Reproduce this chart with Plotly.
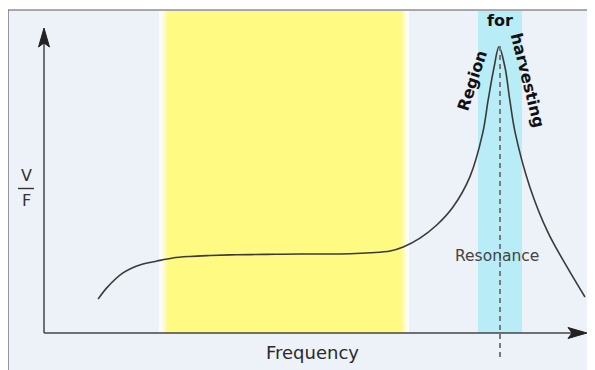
import plotly.graph_objects as go

# ---- data (arbitrary units: frequency vs V/F response) ----
freq = [1.00, 1.16, 1.46, 1.77, 2.09, 2.38, 2.70, 3.07, 3.44, 3.81, 4.27, 4.73, 5.20,
        5.66, 6.03, 6.40, 6.64, 6.95, 7.26, 7.56, 7.87, 8.11, 8.21, 8.32, 8.41, 8.52,
        8.61, 8.71, 8.98, 9.32, 9.67, 10.00]
vf = [1.11, 1.48, 1.97, 2.23, 2.36, 2.46, 2.51, 2.54, 2.56, 2.57, 2.58, 2.59, 2.59,
      2.60, 2.63, 2.69, 2.82, 3.11, 3.54, 4.13, 5.11, 6.56, 7.64, 8.72, 9.38, 8.72,
      7.64, 6.56, 4.79, 3.28, 2.16, 1.18]
x_label = "Frequency"
resonance_label = "Resonance"

PAGE_W, PAGE_H = 595, 370
OFF = 8  # default body margin of the html page
W, H = PAGE_W - OFF, PAGE_H - OFF
# axis origin at page pixel (44,333); 54.1 px per x-unit, 30.5 px per y-unit
X0, Y0, KX, KY = 44, 333, 54.1, 30.5


def px(x):
    return (x - OFF) / W


def py(y):
    return 1 - (y - OFF) / H


fig = go.Figure()
fig.add_trace(go.Scatter(x=freq, y=vf, mode="lines",
                         line=dict(color="#3a3a3a", width=1.6, shape="spline", smoothing=1.0),
                         hoverinfo="skip", showlegend=False))

shapes = []


def rect(x0, x1, y0, y1, color):
    shapes.append(dict(type="rect", xref="paper", yref="paper", x0=px(x0), x1=px(x1), y0=py(y1), y1=py(y0),
                       line=dict(width=0), fillcolor=color, layer="below"))


# frame
shapes.append(dict(type="rect", xref="paper", yref="paper", x0=px(8), x1=px(605), y0=py(380), y1=py(10),
                   line=dict(color="#5a5a5a", width=1.2), fillcolor="#edf1f8", layer="below"))
# yellow band with soft white edges (graded)
rect(159, 409, 11, 333, "rgba(255,255,255,0.75)")
rect(161, 407, 11, 333, "#fffde2")
rect(163, 405, 11, 333, "#fffcc4")
rect(165, 404, 11, 333, "#fffba6")
rect(167, 402, 11, 333, "#fffa82")
# cyan band
rect(478, 522, 11, 333, "#b8ecf6")
# dashed resonance line
shapes.append(dict(type="line", xref="paper", yref="paper", x0=px(500), x1=px(500), y0=py(357), y1=py(45),
                   line=dict(color="#7a7a7a", width=2, dash="5px,4px")))
# axes
shapes.append(dict(type="line", xref="paper", yref="paper", x0=px(44), x1=px(44), y0=py(333), y1=py(40),
                   line=dict(color="#444", width=1.5)))
shapes.append(dict(type="line", xref="paper", yref="paper", x0=px(44), x1=px(575), y0=py(333), y1=py(333),
                   line=dict(color="#444", width=1.5)))


def path(pts):
    return "M " + " L ".join(f"{px(a):.5f},{py(b):.5f}" for a, b in pts) + " Z"


shapes.append(dict(type="path", xref="paper", yref="paper",
                   path=path([(44, 28), (49.5, 47), (44, 43), (38.5, 47)]),
                   fillcolor="#222", line=dict(color="#222", width=1)))
shapes.append(dict(type="path", xref="paper", yref="paper",
                   path=path([(587, 333), (568, 338.5), (572, 333), (568, 327.5)]),
                   fillcolor="#222", line=dict(color="#222", width=1)))
# fraction bar
shapes.append(dict(type="line", xref="paper", yref="paper", x0=px(18), x1=px(34), y0=py(188.5), y1=py(188.5),
                   line=dict(color="#333", width=1.4)))

F = "DejaVu Sans"
ann = []


def txt(t, x, y, size, color, bold=False, angle=0):
    ann.append(dict(text=f"<b>{t}</b>" if bold else t, x=px(x), y=py(y), xref="paper", yref="paper",
                    showarrow=False, xanchor="center", yanchor="middle", textangle=angle,
                    font=dict(family=F, size=size, color=color)))


txt("V", 26, 176, 16, "#333")
txt("F", 26.5, 200, 16, "#333")
txt(x_label, 312, 352, 18, "#2a2a2a")
txt(resonance_label, 497, 256, 15.5, "#444")
txt("Region", 473, 80, 16, "#111", bold=True, angle=-72)
txt("for", 500, 20, 16, "#111", bold=True)
txt("harvesting", 527, 80, 16, "#111", bold=True, angle=76)

fig.update_layout(
    width=W, height=H, margin=dict(l=0, r=0, t=0, b=0),
    paper_bgcolor="white", plot_bgcolor="rgba(0,0,0,0)",
    xaxis=dict(range=[-(X0 - OFF) / KX, (PAGE_W - X0) / KX], visible=False, fixedrange=True),
    yaxis=dict(range=[-(PAGE_H - Y0) / KY, (Y0 - OFF) / KY], visible=False, fixedrange=True),
    shapes=shapes, annotations=ann, showlegend=False,
)
fig.write_html("out.html")
